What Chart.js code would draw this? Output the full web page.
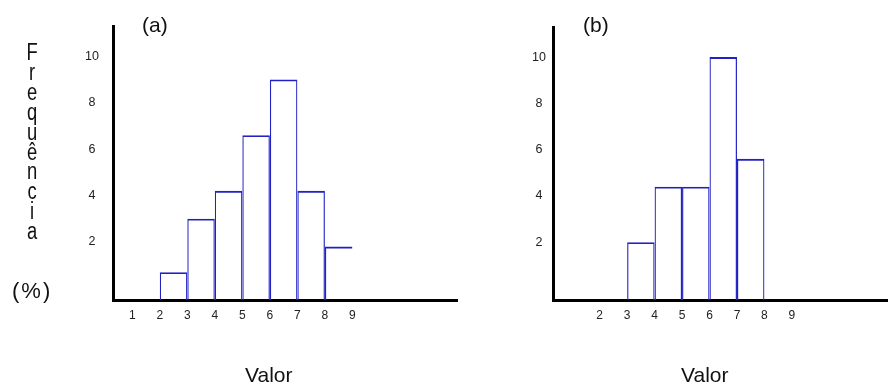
<!DOCTYPE html>
<html>
<head>
<meta charset="utf-8">
<script src="https://cdn.jsdelivr.net/npm/chart.js@4/dist/chart.umd.min.js"></script>
<style>
  html, body { margin:0; padding:0; background:#fff; }
  body { width:888px; height:383px; position:relative; overflow:hidden; font-family:"Liberation Sans", Arial, sans-serif; color:#111; }
  .cv { position:absolute; top:0; }
  .txt { position:absolute; white-space:nowrap; line-height:1; }
  #ylab { position:absolute; left:17px; top:43px; width:30px; text-align:center; font-size:23px; line-height:19.9px; }
  #ylab span { display:block; transform:scaleX(0.8); }
</style>
</head>
<body>
<canvas id="ca" class="cv" style="left:0px" width="470" height="383"></canvas>
<canvas id="cb" class="cv" style="left:450px" width="438" height="383"></canvas>

<div class="txt" style="left:142px; top:14px; font-size:21px;">(a)</div>
<div class="txt" style="left:583px; top:14px; font-size:21px;">(b)</div>
<div id="ylab"></div>
<div class="txt" style="left:12px; top:280px; font-size:22px; letter-spacing:2px;">(%)</div>
<div class="txt" style="left:245px; top:364px; font-size:21px;">Valor</div>
<div class="txt" style="left:681px; top:364px; font-size:21px;">Valor</div>

<script>
// ---- data ----
const yLabel = "Frequência";
const binStartsA = [2, 3, 4, 5, 6, 7, 8];
const freqA      = [0.7, 3.0, 4.2, 6.6, 9.0, 4.2, 1.8];
const binStartsB = [3, 4, 5, 6, 7];
const freqB      = [2.0, 4.4, 4.4, 10.0, 5.6];
const xTicksA = [1, 2, 3, 4, 5, 6, 7, 8, 9];
const xTicksB = [2, 3, 4, 5, 6, 7, 8, 9];
const yTicks  = [2, 4, 6, 8, 10];
const BIN_WIDTH = 1;

// ---- layout constants ----
const X_MIN = 0.3, X_MAX_A = 12.8, X_MAX_B = 12.5;
const Y_MIN = -0.5, Y_MAX = 11.3;
const BAR_COLOR = '#2222c4';

document.getElementById('ylab').innerHTML =
  Array.from(yLabel).map(ch => '<span>' + ch + '</span>').join('');

function makeChart(id, starts, freqs, xTicks, xMax, opts) {
  const data = starts.map((s, i) => ({ x: s + BIN_WIDTH / 2, y: freqs[i] }));
  return new Chart(document.getElementById(id), {
    type: 'bar',
    data: {
      datasets: [{
        data: data,
        base: Y_MIN,
        backgroundColor: 'rgba(0,0,0,0)',
        borderColor: BAR_COLOR,
        borderSkipped: 'start',
        borderWidth: (ctx) => {
          if (opts.openLast && ctx.dataIndex === data.length - 1) {
            return { top: 1.8, left: 1.2, right: 0, bottom: 0 };
          }
          return { top: 1.8, left: 1.2, right: 1.2, bottom: 0 };
        },
        barPercentage: 1,
        categoryPercentage: 1,
        inflateAmount: 0
      }]
    },
    options: {
      responsive: false,
      animation: false,
      events: [],
      layout: { padding: { left: 0, right: opts.padRight, top: opts.padTop, bottom: 0 } },
      plugins: { legend: { display: false }, tooltip: { enabled: false } },
      scales: {
        x: {
          type: 'linear',
          min: X_MIN, max: xMax,
          offset: false,
          grid: { display: false, drawTicks: false, offset: false },
          border: { display: true, color: '#000', width: 3 },
          afterBuildTicks: (s) => { s.ticks = xTicks.map(v => ({ value: v })); },
          afterFit: (s) => { s.height = 383 - 300; },
          ticks: {
            padding: 8,
            autoSkip: false,
            maxRotation: 0,
            color: '#222',
            font: { family: '"Liberation Sans", Arial, sans-serif', size: 12 },
            callback: (v) => String(v)
          }
        },
        y: {
          type: 'linear',
          min: Y_MIN, max: Y_MAX,
          grid: { display: false, drawTicks: false },
          border: { display: true, color: '#000', width: 3 },
          afterBuildTicks: (s) => { s.ticks = yTicks.map(v => ({ value: v })); },
          afterFit: (s) => { s.width = opts.axisLeft; },
          ticks: {
            padding: opts.yPad,
            crossAlign: 'center',
            color: '#222',
            font: { family: '"Liberation Sans", Arial, sans-serif', size: 12.5 },
            callback: (v) => String(v)
          }
        }
      }
    }
  });
}

makeChart('ca', binStartsA, freqA, xTicksA, X_MAX_A,
  { openLast: true, padRight: 13, padTop: 26, axisLeft: 113, yPad: 14 });
makeChart('cb', binStartsB, freqB, xTicksB, X_MAX_B,
  { openLast: false, padRight: 0, padTop: 27, axisLeft: 103, yPad: 7 });
</script>
</body>
</html>
